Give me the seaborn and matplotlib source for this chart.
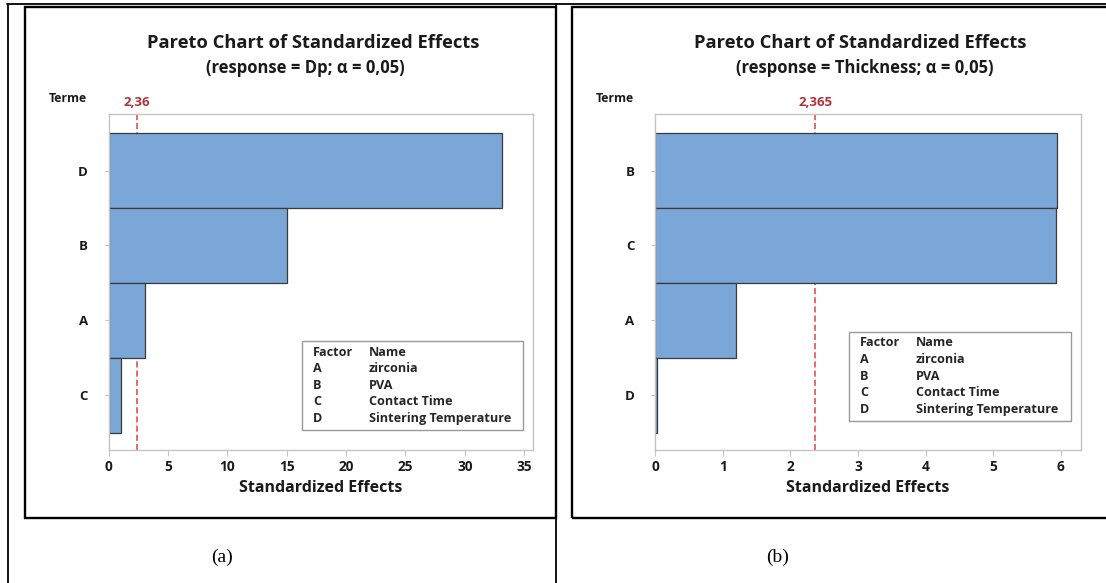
import matplotlib
matplotlib.use("Agg")
import matplotlib.pyplot as plt
from matplotlib.patches import Rectangle
from matplotlib.lines import Line2D
import seaborn as sns

# Standardized effects, sorted largest first
terms_dp = ["D", "B", "A", "C"]
effects_dp = [33.1, 15.06, 3.08, 1.07]
crit_dp = 2.36
crit_dp_label = "2,36"

terms_th = ["B", "C", "A", "D"]
effects_th = [5.94, 5.93, 1.20, 0.02]
crit_th = 2.365
crit_th_label = "2,365"

xticks_dp = [0, 5, 10, 15, 20, 25, 30, 35]
xticks_th = [0, 1, 2, 3, 4, 5, 6]

factor_codes = ["A", "B", "C", "D"]
factor_names = ["zirconia", "PVA", "Contact Time", "Sintering Temperature"]

titles = ["Pareto Chart of Standardized Effects", "Pareto Chart of Standardized Effects"]
subtitles = ["(response = Dp; α = 0,05)", "(response = Thickness; α = 0,05)"]
captions = ["(a)", "(b)"]

sns.set_theme(style="white")
plt.rcParams["font.family"] = ["Open Sans", "DejaVu Sans"]

W, H = 1106, 583
fig = plt.figure(figsize=(W / 100, H / 100), dpi=100)


def fx(x):
    return x / W


def fy(y):
    return 1 - y / H


BAR = "#7BA6D8"
EDGE = "#3A3A3A"
RED_LINE = "#E0414A"
RED_TEXT = "#B0303A"
SPINE = "#C4C4C4"
TXT = "#1A1A1A"

# table rules and panel frames
fig.add_artist(Line2D([fx(7), fx(W)], [fy(4), fy(4)], color="black", lw=1.3))
fig.add_artist(Line2D([fx(8), fx(8)], [fy(4), fy(H)], color="black", lw=1.3))
fig.add_artist(Line2D([fx(556), fx(556)], [fy(4), fy(H)], color="black", lw=1.3))
for x0, x1 in [(25, 556), (572, W + 5)]:
    fig.add_artist(Rectangle((fx(x0), fy(518)), fx(x1 - x0), (518 - 7) / H,
                             fill=False, edgecolor="black", lw=1.7))

panels = [
    dict(terms=terms_dp, effects=effects_dp, crit=crit_dp, crit_label=crit_dp_label,
         xticks=xticks_dp, xmax=35.75, ax_left=108.5, ax_right=533,
         title_x=313, sub_x=305, terme_x=68, legend=(302, 341, 523, 430), cap_x=222),
    dict(terms=terms_th, effects=effects_th, crit=crit_th, crit_label=crit_th_label,
         xticks=xticks_th, xmax=6.30, ax_left=655.3, ax_right=1081,
         title_x=860, sub_x=865, terme_x=615, legend=(849, 332, 1071, 421), cap_x=778),
]

ax_top, ax_bot = 114.5, 449.8

for i, p in enumerate(panels):
    ax = fig.add_axes([fx(p["ax_left"]), fy(ax_bot), (p["ax_right"] - p["ax_left"]) / W,
                       (ax_bot - ax_top) / H])
    ax.axvline(p["crit"], color=RED_LINE, lw=1.1, ls=(0, (4, 2)), zorder=0)
    sns.barplot(x=p["effects"], y=p["terms"], order=p["terms"], orient="h", width=1.0,
                color=BAR, saturation=1, edgecolor=EDGE, linewidth=0.9, ax=ax, zorder=2)
    ax.set_xlim(0, p["xmax"])
    ax.set_ylim(3.73, -0.75)
    ax.set_xticks(p["xticks"])
    ax.set_xticklabels([str(t) for t in p["xticks"]])
    ax.set_xlabel("Standardized Effects", fontsize=11.5, fontweight="bold", color=TXT,
                  labelpad=4)
    ax.set_ylabel("")
    for s in ax.spines.values():
        s.set_color(SPINE)
        s.set_linewidth(1.0)
    ax.tick_params(axis="x", bottom=True, length=4, width=0.8, color=SPINE, pad=3.5,
                   labelsize=9.8, labelcolor=TXT)
    ax.tick_params(axis="y", left=True, length=3, width=0.8, color=SPINE, pad=12,
                   labelsize=9.5, labelcolor=TXT)
    for lab in ax.get_xticklabels() + ax.get_yticklabels():
        lab.set_fontweight("bold")

    # critical value label above the plot
    ax.text(p["crit"], 1.0 + 12 / (ax_bot - ax_top), p["crit_label"],
            transform=ax.get_xaxis_transform(), ha="center", va="center",
            fontsize=9.5, color=RED_TEXT, fontweight="bold")

    fig.text(fx(p["title_x"]), fy(43), titles[i], ha="center", va="center",
             fontsize=13.2, fontweight="bold", color=TXT)
    fig.text(fx(p["sub_x"]), fy(68), subtitles[i], ha="center", va="center",
             fontsize=12, fontweight="bold", color=TXT)
    fig.text(fx(p["terme_x"]), fy(99), "Terme", ha="center", va="center",
             fontsize=8.8, fontweight="bold", color=TXT)

    # factor key box
    lx0, ly0, lx1, ly1 = p["legend"]
    fig.add_artist(Rectangle((fx(lx0), fy(ly1)), fx(lx1 - lx0), (ly1 - ly0) / H,
                             fill=False, edgecolor="#9A9A9A", lw=1.0))
    rows = [("Factor", "Name")] + list(zip(factor_codes, factor_names))
    for r, (code, name) in enumerate(rows):
        yy = ly0 + 11 + r * 16.6
        fig.text(fx(lx0 + 11), fy(yy), code, ha="left", va="center", fontsize=9.1,
                 fontweight="bold", color="#262626")
        fig.text(fx(lx0 + 67), fy(yy), name, ha="left", va="center", fontsize=9.1,
                 fontweight="bold", color="#262626")

    fig.text(fx(p["cap_x"]), fy(557), captions[i], ha="center", va="center",
             fontsize=14, family="Liberation Serif", color="black")

fig.savefig("out.png", dpi=100)
